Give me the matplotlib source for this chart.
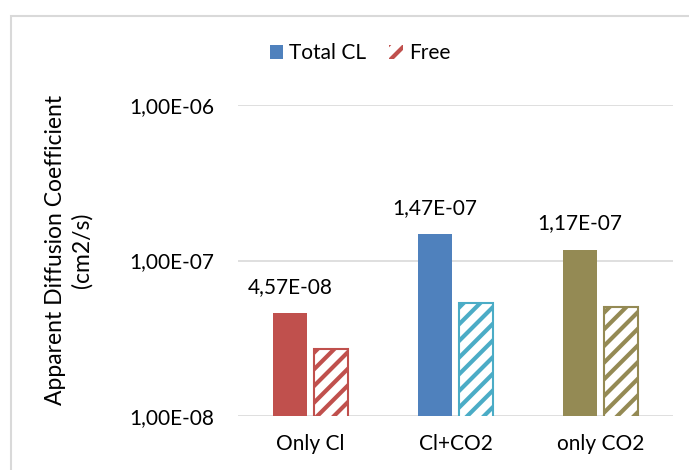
import matplotlib
matplotlib.use("Agg")
import matplotlib.pyplot as plt
import numpy as np
from matplotlib.patches import Rectangle, Patch
from matplotlib.ticker import FixedLocator, FuncFormatter

categories = ["Only Cl", "Cl+CO2", "only CO2"]
total_cl = [4.57e-08, 1.47e-07, 1.17e-07]
free = [2.70e-08, 5.33e-08, 5.02e-08]
solid_colors = ["#C0504D", "#4F81BD", "#948A54"]
hatch_colors = ["#C0504D", "#4BACC6", "#948A54"]
y_ticks = [1e-8, 1e-7, 1e-6]

plt.rcParams['font.family'] = ['Lato', 'DejaVu Sans']
plt.rcParams['hatch.linewidth'] = 3.0

def fmt(v):
    return f"{v:.2E}".replace('.', ',')

W, H = 689, 470
FS = 15
fig = plt.figure(figsize=(W/100, H/100), dpi=100)
ax = fig.add_axes([238/W, 1-416/H, (673-238)/W, (416-105)/H])

x = np.arange(len(categories))
bw = 0.234
off = 0.141
for i in range(len(categories)):
    ax.bar(x[i]-off, total_cl[i], width=bw, color=solid_colors[i], zorder=3)
    ax.bar(x[i]+off, free[i], width=bw, facecolor="white", edgecolor=hatch_colors[i],
           hatch="//", linewidth=1.5, zorder=3)
    ax.annotate(fmt(total_cl[i]), (x[i]-off, total_cl[i]), xytext=(0, 12),
                textcoords="offset points", ha="center", va="bottom", fontsize=FS)

ax.set_yscale("log")
ax.set_ylim(1e-8, 1e-6)
ax.set_xlim(-0.5, len(categories)-0.5)
ax.yaxis.set_major_locator(FixedLocator(y_ticks))
ax.yaxis.set_minor_locator(FixedLocator([]))
ax.yaxis.set_major_formatter(FuncFormatter(lambda v, p: fmt(v)))
ax.set_xticks(x)
ax.set_xticklabels(categories)
ax.tick_params(axis="both", length=0, labelsize=FS)
ax.tick_params(axis="y", pad=17)
ax.tick_params(axis="x", pad=13)
ax.grid(axis="y", color="#D9D9D9", linewidth=1.2, zorder=0)
for s in ax.spines.values():
    s.set_visible(False)

fig.text(69/W, 1-250/H, "Apparent Diffusion Coefficient\n(cm2/s)", rotation=90,
         ha="center", va="center", fontsize=16.5, linespacing=1.3, multialignment="center")

handles = [Patch(facecolor="#4F81BD", label="Total CL"),
           Patch(facecolor="white", edgecolor="#C0504D", hatch="//", linewidth=0, label="Free")]
fig.legend(handles=handles, loc="center", bbox_to_anchor=(360/W, 1-53/H), ncol=2,
           frameon=False, fontsize=FS, handlelength=0.65, handleheight=0.65,
           handletextpad=0.3, columnspacing=1.1)

rect = Rectangle((11/W, -0.1), 1.2, 1-16/H+0.1, transform=fig.transFigure,
                 fill=False, edgecolor="#D9D9D9", linewidth=1.5)
fig.patches.append(rect)

fig.savefig("out.png", dpi=100)
